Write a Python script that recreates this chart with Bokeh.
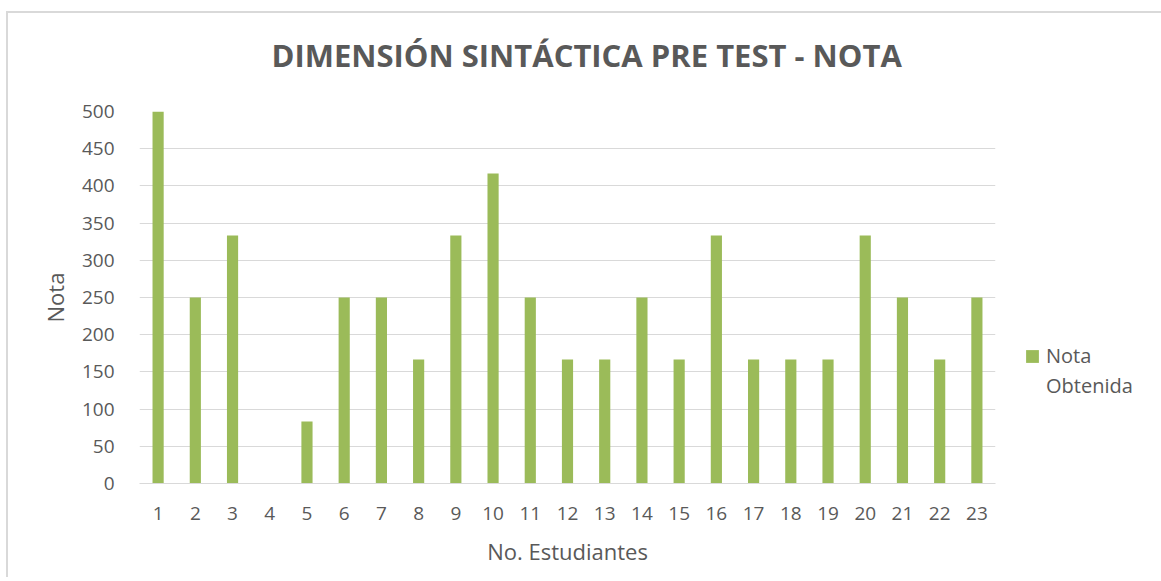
from bokeh.plotting import figure
from bokeh.models import FactorRange, Range1d, FixedTicker, Legend, LegendItem, ColumnDataSource, Title
from bokeh.embed import file_html
from bokeh.resources import INLINE

students = [str(i) for i in range(1, 24)]
notas = [500, 250, 333.33, 0, 83.33, 250, 250, 166.67, 333.33, 416.67, 250, 166.67,
         166.67, 250, 166.67, 333.33, 166.67, 166.67, 166.67, 333.33, 250, 166.67, 250]
y_ticks = [0, 50, 100, 150, 200, 250, 300, 350, 400, 450, 500]
title_text = "DIMENSIÓN SINTÁCTICA PRE TEST - NOTA"
series_name = ["Nota", "Obtenida"]
x_title = "No. Estudiantes"
y_title = "Nota"

TXT = "#595959"
GRID = "#d9d9d9"
BAR = "#9bbb59"
FONT = "Open Sans"

p = figure(frame_width=856, frame_height=372, output_backend="svg", toolbar_location=None,
           x_range=FactorRange(factors=students, range_padding=0),
           y_range=Range1d(0, 500),
           min_border_left=131, min_border_right=160, min_border_top=98, min_border_bottom=94)
p.styles = {"margin-left": "6px", "margin-top": "11px",
            "border-left": "2px solid #d9d9d9", "border-top": "2px solid #d9d9d9"}
p.outline_line_color = None
p.background_fill_color = "white"
p.border_fill_color = "white"

# spacer between the title and the plot area
p.add_layout(Title(text=" ", text_font_size="1px", standoff=33), "above")

p.title.text = title_text
p.title.align = "left"
p.title.offset = 132
p.title.text_font = FONT
p.title.text_font_size = "31px"
p.title.text_font_style = "bold"
p.title.text_color = TXT
p.title.standoff = 0

src = ColumnDataSource(dict(x=students, y=notas))
bars = p.vbar(x="x", top="y", width=0.3, source=src, fill_color=BAR, line_color=None)
dummy = p.vbar(x=[], top=[], width=0.3, fill_alpha=0, line_alpha=0)

p.xgrid.grid_line_color = None
p.ygrid.grid_line_color = GRID
p.ygrid.grid_line_width = 1
p.yaxis.ticker = FixedTicker(ticks=y_ticks)

for ax in (p.xaxis[0], p.yaxis[0]):
    ax.major_tick_line_color = None
    ax.minor_tick_line_color = None
    ax.major_label_text_color = TXT
    ax.major_label_text_font = FONT
    ax.major_label_text_font_size = "19px"
    ax.axis_label_text_color = TXT
    ax.axis_label_text_font = FONT
    ax.axis_label_text_font_size = "22px"
    ax.axis_label_text_font_style = "normal"
    ax.major_tick_out = 0
    ax.major_tick_in = 0

p.yaxis.axis_line_color = None
p.xaxis.axis_line_color = GRID
p.yaxis.major_label_standoff = 25
p.xaxis.major_label_standoff = 23
p.yaxis.axis_label = y_title
p.xaxis.axis_label = x_title
p.yaxis.axis_label_standoff = 9
p.xaxis.axis_label_standoff = 13

legend = Legend(items=[LegendItem(label=series_name[0], renderers=[bars]),
                       LegendItem(label=series_name[1], renderers=[dummy])],
                location=(29, 84), orientation="vertical",
                glyph_width=16, glyph_height=16, label_standoff=6, spacing=3,
                padding=0, margin=0, border_line_color=None, background_fill_alpha=0,
                label_text_font=FONT, label_text_font_size="20px", label_text_color=TXT)
p.add_layout(legend, "right")

open("out.html", "w").write(file_html(p, INLINE))
